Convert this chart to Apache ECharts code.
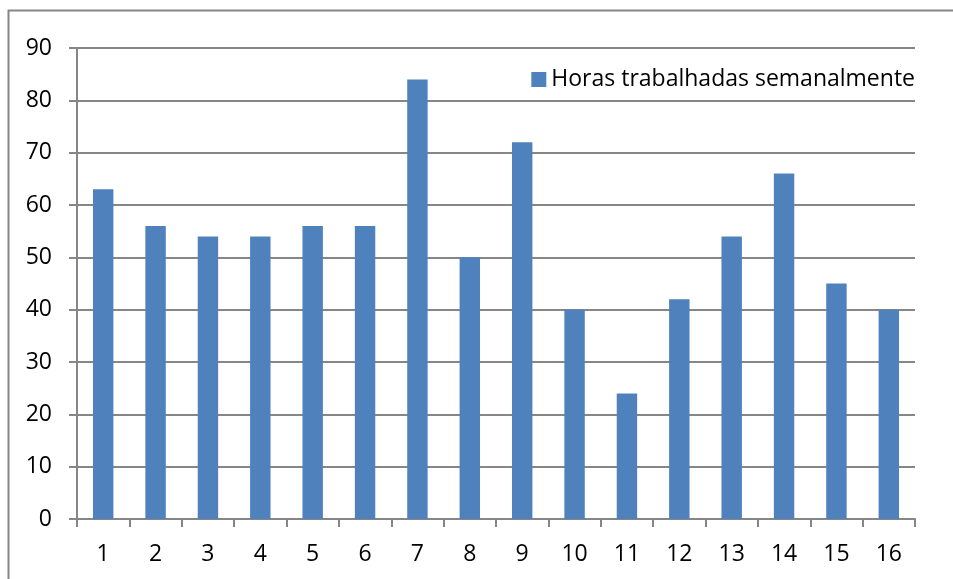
<!DOCTYPE html>
<html>
<head>
<meta charset="utf-8">
<script src="https://cdn.jsdelivr.net/npm/echarts@6/dist/echarts.min.js"></script>
<style>
  html, body { margin: 0; padding: 0; background: #fff; }
  #chart { width: 953px; height: 579px; }
</style>
</head>
<body>
<div id="chart"></div>
<script>
const categories = ['1', '2', '3', '4', '5', '6', '7', '8', '9', '10', '11', '12', '13', '14', '15', '16']
const hours = [63, 56, 54, 54, 56, 56, 84, 50, 72, 40, 24, 42, 54, 66, 45, 40]
const seriesName = 'Horas trabalhadas semanalmente'

const gray = '#868686'
const font = 'Open Sans'

const chart = echarts.init(document.getElementById('chart'))
chart.setOption({
  animation: false,
  textStyle: { fontFamily: font },
  graphic: [
    {
      type: 'rect',
      shape: { x: 8.5, y: 10.5, width: 1000, height: 1000 },
      style: { fill: 'none', stroke: gray, lineWidth: 2 },
      silent: true
    }
  ],
  grid: {
    left: 77,
    right: 38,
    top: 48,
    bottom: 60
  },
  legend: {
    right: 38,
    top: 66,
    itemWidth: 15,
    itemHeight: 15,
    itemGap: 8,
    icon: 'rect',
    backgroundColor: '#fff',
    padding: [2, 0, 2, 4],
    textStyle: { fontFamily: font, fontSize: 23, color: '#000' },
    data: [seriesName]
  },
  xAxis: {
    type: 'category',
    data: categories,
    axisLine: { lineStyle: { color: gray, width: 2 } },
    axisTick: { show: true, length: 8, lineStyle: { color: gray, width: 2 } },
    axisLabel: { fontFamily: font, fontSize: 23, color: '#000', margin: 24 }
  },
  yAxis: {
    type: 'value',
    min: 0,
    max: 90,
    interval: 10,
    axisLine: { show: true, lineStyle: { color: gray, width: 2 } },
    axisTick: { show: true, length: 8, lineStyle: { color: gray, width: 2 } },
    axisLabel: { fontFamily: font, fontSize: 23, color: '#000', margin: 25 },
    splitLine: { lineStyle: { color: gray, width: 2 } }
  },
  series: [
    {
      name: seriesName,
      type: 'bar',
      data: hours,
      barWidth: '39%',
      itemStyle: { color: '#4F81BD' }
    }
  ]
})
</script>
</body>
</html>
